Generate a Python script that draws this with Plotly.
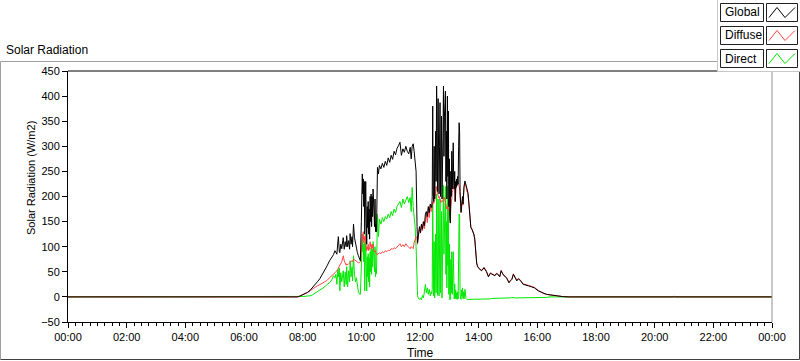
import plotly.graph_objects as go

# ---------------- data ----------------
times = [
    "00:00", "07:50", "07:55", "08:00", "08:05", "08:10", "08:15", "08:20", "08:25", "08:30",
    "08:35", "08:40", "08:45", "08:50", "08:55", "09:00", "09:03", "09:06", "09:08", "09:10",
    "09:12", "09:13", "09:15", "09:16", "09:18", "09:20", "09:22", "09:23", "09:25", "09:27",
    "09:29", "09:30", "09:32", "09:34", "09:36", "09:37", "09:39", "09:41", "09:42", "09:44",
    "09:46", "09:48", "09:50", "09:52", "09:54", "09:56", "09:58",
    "10:00", "10:01", "10:02", "10:03", "10:04", "10:05", "10:06", "10:07", "10:08", "10:09",
    "10:10", "10:11", "10:12", "10:13", "10:14", "10:15", "10:16", "10:17", "10:18", "10:19",
    "10:20", "10:21", "10:22", "10:23", "10:24", "10:25", "10:26", "10:27", "10:28", "10:29",
    "10:30", "10:31", "10:32", "10:33", "10:35", "10:37", "10:40", "10:43", "10:46", "10:49",
    "10:52", "10:55", "10:58", "11:01", "11:04", "11:07", "11:10", "11:13", "11:16", "11:19",
    "11:22", "11:25", "11:28", "11:31", "11:34", "11:37", "11:40", "11:42", "11:44", "11:46",
    "11:48", "11:50", "11:52", "11:54", "11:55", "11:57", "11:59", "12:01", "12:03", "12:05",
    "12:07", "12:09", "12:11", "12:13", "12:15", "12:17", "12:19", "12:21", "12:23",
    "12:24", "12:25", "12:26", "12:27", "12:28", "12:29", "12:30", "12:31", "12:32", "12:33",
    "12:34", "12:35", "12:36", "12:37", "12:38", "12:39", "12:40", "12:41", "12:42", "12:43",
    "12:44", "12:45", "12:46", "12:47", "12:48", "12:49", "12:50", "12:51", "12:52", "12:53",
    "12:54", "12:55", "12:56", "12:57", "12:58", "12:59", "13:00", "13:01", "13:02", "13:03",
    "13:04", "13:05", "13:06", "13:07", "13:08", "13:09", "13:10", "13:11", "13:12", "13:13",
    "13:14", "13:15", "13:16", "13:17", "13:18", "13:19", "13:20", "13:21", "13:22", "13:23",
    "13:24", "13:25", "13:26", "13:27", "13:28", "13:29", "13:30", "13:32", "13:34", "13:36",
    "13:38", "13:40", "13:42", "13:44", "13:46", "13:48", "13:50", "13:52", "13:54", "13:56",
    "13:58", "14:01", "14:06", "14:11", "14:16", "14:20", "14:24", "14:27", "14:33", "14:36",
    "14:39", "14:43", "14:46", "14:49", "14:52", "14:57", "15:02", "15:05", "15:08", "15:11",
    "15:14", "15:18", "15:21", "15:25", "15:31", "15:36", "15:42", "15:48", "15:54", "16:02",
    "16:07", "16:12", "16:19", "16:26", "16:40", "16:53", "17:05", "20:38", "20:40", "20:42",
    "24:00",
]

global_wm2 = [
    0, 0, 2, 4, 6, 9, 13, 18, 24, 30,
    36, 44, 52, 62, 72, 80, 84, 92, 88, 85,
    110, 120, 90, 88, 105, 96, 112, 118, 95, 110,
    100, 122, 100, 112, 95, 126, 105, 120, 100, 145,
    118, 105, 98, 88, 82, 76, 72,
    150, 225, 245, 205, 235, 180, 230, 125, 215, 230,
    155, 105, 180, 138, 190, 125, 175, 115, 200, 150,
    205, 140, 200, 160, 215, 170, 185, 140, 195, 130,
    145, 130, 250, 258, 245, 262, 255, 266, 258, 270,
    262, 277, 268, 282, 274, 290, 283, 296, 301, 308,
    282, 295, 288, 300, 290, 285, 298, 275, 300, 305,
    290, 275, 250, 140, 108, 125, 140, 128, 145, 135,
    150, 142, 165, 170, 160, 180, 168, 185, 178,
    178, 200, 380, 205, 190, 300, 195, 240, 330, 230,
    420, 350, 210, 395, 250, 205, 300, 387, 200, 260,
    360, 195, 240, 320, 420, 280, 360, 400, 410, 230,
    330, 195, 400, 240, 370, 180, 275, 160, 147, 250,
    200, 290, 215, 260, 307, 225, 215, 250, 190, 230,
    218, 235, 222, 240, 225, 300, 347, 330, 210, 190,
    168, 180, 187, 200, 185, 210, 220, 231, 222, 212,
    208, 187, 160, 138, 135, 131, 125, 115, 82, 66,
    60, 56, 52, 58, 50, 40, 47, 45, 42, 46,
    45, 40, 52, 46, 42, 38, 28, 32, 35, 45,
    38, 32, 36, 33, 25, 24, 22, 20, 18, 12,
    10, 7, 5, 4, 1.5, 0.5, 0, 0, 0, 0,
    0,
]

diffuse_wm2 = [
    0, 0, 2, 4, 6, 9, 12, 16, 19, 22,
    24, 27, 30, 33, 38, 42, 44, 48, 50, 52,
    55, 58, 62, 65, 66, 70, 78, 82, 72, 65,
    63, 66, 64, 66, 68, 68, 70, 72, 70, 75,
    74, 72, 72, 70, 68, 68, 70,
    90, 110, 125, 115, 130, 108, 120, 112, 122, 105,
    95, 92, 100, 95, 105, 92, 98, 95, 110, 100,
    105, 96, 102, 98, 105, 95, 92, 90, 92, 88,
    86, 85, 84, 85, 86, 88, 86, 90, 88, 92,
    90, 93, 92, 96, 95, 98, 96, 100, 102, 106,
    100, 104, 100, 106, 102, 98, 96, 100, 98, 96,
    108, 115, 120, 118, 105, 123, 138, 127, 144, 132,
    149, 136, 150, 165, 148, 176, 158, 183, 170,
    172, 185, 190, 190, 186, 188, 192, 200, 205, 220,
    215, 210, 205, 200, 198, 200, 196, 192, 190, 188,
    190, 192, 190, 192, 198, 195, 198, 195, 190, 185,
    180, 175, 180, 178, 175, 172, 170, 165, 150, 175,
    190, 200, 208, 212, 215, 220, 216, 222, 190, 215,
    220, 225, 225, 228, 226, 225, 220, 215, 205, 192,
    170, 178, 185, 195, 183, 205, 218, 225, 220, 210,
    206, 186, 160, 140, 136, 132, 126, 116, 84, 68,
    61, 57, 53, 59, 51, 41, 48, 46, 43, 47,
    46, 41, 53, 47, 43, 39, 29, 33, 36, 46,
    39, 33, 37, 34, 26, 25, 23, 21, 19, 13,
    10, 7, 5, 4, 1.5, 0.5, 0, 0, 0, 0,
    0,
]

direct_wm2 = [
    0, 0, 0, 1, 1, 2, 2, 4, 7, 10,
    13, 16, 20, 25, 28, 35, 42, 38, 45, 25,
    55, 40, 58, 12, 48, 30, 40, 52, 20, 50,
    25, 60, 20, 52, 30, 72, 40, 60, 32, 82,
    45, 30, 38, 20, 10, 6, 5,
    60, 112, 118, 90, 105, 70, 110, 12, 95, 125,
    60, 12, 80, 40, 86, 30, 78, 20, 90, 50,
    98, 45, 95, 60, 110, 72, 90, 50, 100, 40,
    58, 46, 160, 165, 120, 155, 145, 158, 150, 160,
    155, 165, 158, 170, 162, 175, 168, 180, 185, 190,
    178, 195, 185, 192, 200, 188, 198, 170, 218, 180,
    165, 140, 100, 20, 2, -3, -5, -2, -6, 3,
    -2, 10, 25, 8, 18, 5, 15, 2, 10,
    6, 15, 188, 14, 2, 110, -2, 40, 125, 8,
    205, 140, 3, 195, 50, 2, 104, 195, 8, 72,
    170, -2, 50, 128, 222, 85, 162, 205, 220, 45,
    150, 18, 220, 62, 195, 5, 105, -6, -5, 75,
    8, 90, 5, 48, 90, 3, -4, 26, -3, 14,
    -4, 8, -5, 10, -4, 75, 165, 160, 4, -5,
    -5, 14, 2, 18, -3, 10, -4, 15, -3, -5,
    -5, -4, -4, -4, -4, -4, -4, -4, -4, -4,
    -4, -4, -4, -4, -4, -4, -4, -3, -3, -3,
    -3, -3, -3, -3, -3, -3, -2, -2, -1, -2,
    -2, -2, -2, -2, -2, -2, -1, -1, -1, -1,
    -1, -1, -1, 0, 0, 0, 0, 0, 2, 0,
    0,
]

y_ticks = [-50, 0, 50, 100, 150, 200, 250, 300, 350, 400, 450]
series_names = ["Global", "Diffuse", "Direct"]
series_colors = ["#000000", "#ff4545", "#00e800"]

assert len(times) == len(global_wm2) == len(diffuse_wm2) == len(direct_wm2)

DAY = "2020-01-01"
NEXT = "2020-01-02"
x_dt = [f"{NEXT} 00:00" if t == "24:00" else f"{DAY} {t}" for t in times]

# ---------------- figure ----------------
W, H = 800, 361
L, R, T, B = 68, 772, 71, 322  # plot area in pixels


def fx(p):
    return (p - L) / (R - L)


def fy(p):
    return (B - p) / (B - T)


fig = go.Figure()
values = {"Global": global_wm2, "Diffuse": diffuse_wm2, "Direct": direct_wm2}
# draw Direct first, Global on top
for name in ["Direct", "Diffuse", "Global"]:
    col = series_colors[series_names.index(name)]
    fig.add_trace(go.Scatter(x=x_dt, y=values[name], mode="lines", name=name,
                             line=dict(color=col, width=1), showlegend=False,
                             hoverinfo="skip"))

FONT = "Liberation Sans, Arial, sans-serif"

fig.update_layout(
    width=W, height=H,
    margin=dict(l=L, r=W - R, t=T, b=H - B, pad=0),
    paper_bgcolor="white", plot_bgcolor="white",
    font=dict(family=FONT, size=11, color="#000000"),
    showlegend=False,
)

fig.update_xaxes(
    type="date",
    range=[f"{DAY} 00:00", f"{NEXT} 00:00"],
    tick0=f"{DAY} 00:00", dtick=2 * 3600 * 1000,
    tickformat="%H:%M",
    ticks="outside", ticklen=5, tickwidth=1, tickcolor="#000000",
    minor=dict(ticks="outside", ticklen=3, tickwidth=1, tickcolor="#000000",
               dtick=15 * 60 * 1000, tick0=f"{DAY} 00:00", showgrid=False),
    showgrid=False, zeroline=False,
    showline=True, linecolor="#000000", linewidth=1,
    tickfont=dict(size=11, family=FONT),
)
fig.update_yaxes(
    range=[-50, 450], tickvals=y_ticks,
    ticks="outside", ticklen=5, tickwidth=1, tickcolor="#000000",
    showgrid=False, zeroline=False,
    showline=True, linecolor="#000000", linewidth=1,
    tickfont=dict(size=11, family=FONT),
)

shapes = []
ann = []

# outer frame
shapes.append(dict(type="line", xref="paper", yref="paper", x0=fx(0.5), x1=fx(0.5), y0=fy(61.5), y1=fy(359.5),
                   line=dict(color="#a0a0a0", width=1)))
shapes.append(dict(type="line", xref="paper", yref="paper", x0=fx(0.5), x1=fx(799.5), y0=fy(61.5), y1=fy(61.5),
                   line=dict(color="#a0a0a0", width=1)))
shapes.append(dict(type="line", xref="paper", yref="paper", x0=fx(0.5), x1=fx(799.5), y0=fy(359.5), y1=fy(359.5),
                   line=dict(color="#404040", width=1)))
shapes.append(dict(type="line", xref="paper", yref="paper", x0=fx(799.5), x1=fx(799.5), y0=fy(61.5), y1=fy(359.5),
                   line=dict(color="#404040", width=1)))
# plot frame top (black) and right (grey)
shapes.append(dict(type="line", xref="paper", yref="paper", x0=0, x1=1, y0=1, y1=1,
                   line=dict(color="#000000", width=1)))
shapes.append(dict(type="line", xref="paper", yref="paper", x0=1, x1=1, y0=0, y1=1,
                   line=dict(color="#909090", width=1)))

# legend panel
shapes.append(dict(type="rect", xref="paper", yref="paper", x0=fx(717.5), x1=fx(801), y0=fy(71.5), y1=fy(-1),
                   fillcolor="white", line=dict(color="#c8c8c8", width=1), layer="above"))
for i, name in enumerate(series_names):
    y0 = 3.5 + i * 23
    y1 = y0 + 18
    col = series_colors[i]
    shapes.append(dict(type="rect", xref="paper", yref="paper", x0=fx(720.5), x1=fx(763.5), y0=fy(y1), y1=fy(y0),
                       fillcolor="white", line=dict(color="#202020", width=1), layer="above"))
    shapes.append(dict(type="rect", xref="paper", yref="paper", x0=fx(766.5), x1=fx(797.5), y0=fy(y1), y1=fy(y0),
                       fillcolor="white", line=dict(color="#202020", width=1), layer="above"))
    zz = [(769, y1 - 4), (777, y0 + 4), (785, y1 - 4), (795, y0 + 4)]
    path = "M " + " L ".join(f"{fx(a)},{fy(b)}" for a, b in zz)
    shapes.append(dict(type="path", xref="paper", yref="paper", path=path,
                       line=dict(color=col, width=1), layer="above"))
    ann.append(dict(text=name, xref="paper", yref="paper", x=fx(723), y=fy((y0 + y1) / 2),
                    xanchor="left", yanchor="middle", showarrow=False,
                    font=dict(size=12, family=FONT, color="#000000")))

# titles
ann.append(dict(text="Solar Radiation", xref="paper", yref="paper", x=fx(4), y=fy(50),
                xanchor="left", yanchor="middle", showarrow=False,
                font=dict(size=12, family=FONT, color="#000000")))
ann.append(dict(text="Solar Radiation (W/m2)", xref="paper", yref="paper", x=fx(31), y=fy(178),
                xanchor="center", yanchor="middle", showarrow=False, textangle=-90,
                font=dict(size=11, family=FONT, color="#000000")))
ann.append(dict(text="Time", xref="paper", yref="paper", x=fx(420), y=fy(353),
                xanchor="center", yanchor="middle", showarrow=False,
                font=dict(size=12, family=FONT, color="#000000")))

fig.update_layout(shapes=shapes, annotations=ann)
fig.write_html(
    "out.html",
    config={"displayModeBar": False, "staticPlot": True},
    post_script="document.body.style.margin='0';document.body.style.padding='0';"
                "document.body.style.overflow='hidden';",
)
